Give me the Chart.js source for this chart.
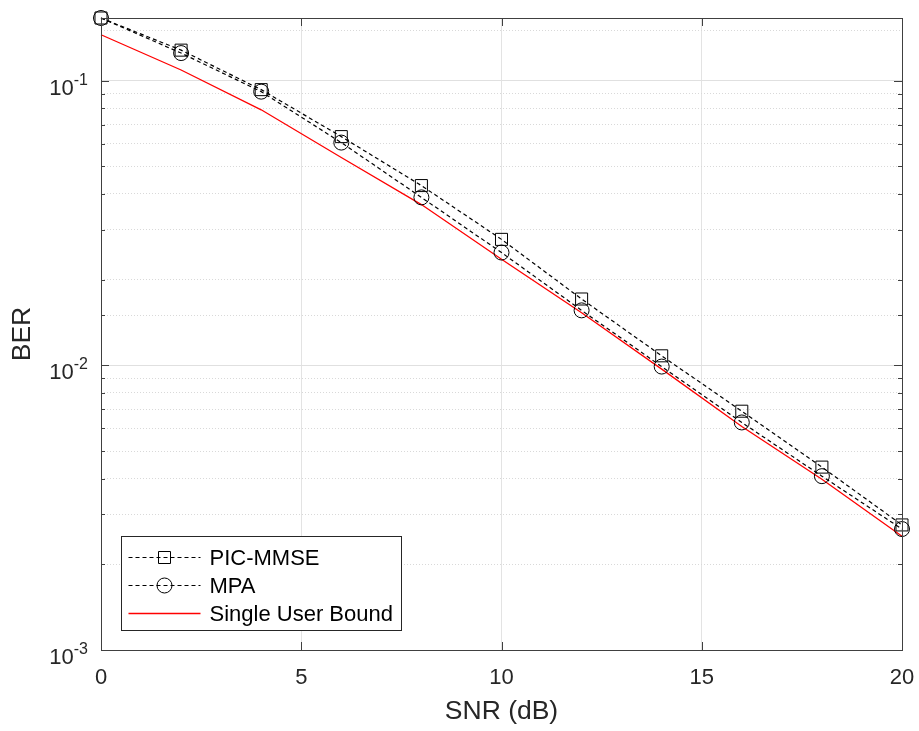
<!DOCTYPE html>
<html>
<head>
<meta charset="utf-8">
<script src="https://cdn.jsdelivr.net/npm/chart.js@4.4.0/dist/chart.umd.min.js"></script>
<style>
  html, body { margin: 0; padding: 0; background: #fff; }
  #wrap { width: 919px; height: 731px; }
</style>
</head>
<body>
<div id="wrap"><canvas id="ber"></canvas></div>
<script>
var snr = [0, 2, 4, 6, 8, 10, 12, 14, 16, 18, 20];
var picMmse = [0.166, 0.128, 0.093, 0.0636, 0.0428, 0.0277, 0.0171, 0.0108, 0.0069, 0.00439, 0.00275];
var mpa = [0.166, 0.125, 0.0915, 0.0606, 0.0389, 0.0249, 0.0156, 0.0099, 0.0063, 0.00408, 0.00266];
var singleUser = [0.145, 0.109, 0.079, 0.0537, 0.0367, 0.0236, 0.0153, 0.0097, 0.0061, 0.00398, 0.00251];
var seriesNames = ["PIC-MMSE", "MPA", "Single User Bound"];
var xTicks = [0, 5, 10, 15, 20];
var yDecades = [-1, -2, -3];

var font = "'Liberation Sans', Arial, Helvetica, sans-serif";
var axisColor = "#404040";
var textColor = "#262626";

var isDecade = function (v) {
    var l = Math.log10(v);
    return Math.abs(l - Math.round(l)) < 1e-9;
};

var pts = function (ys) {
    return snr.map(function (x, i) { return { x: x, y: ys[i] }; });
};

// box, inward ticks, superscript labels and legend, MATLAB style
var axisBox = {
    id: "axisBox",
    afterDraw: function (chart) {
        var ctx = chart.ctx;
        var a = chart.chartArea;
        var xs = chart.scales.x;
        var ys = chart.scales.y;
        ctx.save();

        ctx.strokeStyle = axisColor;
        ctx.lineWidth = 1;
        ctx.setLineDash([]);
        ctx.beginPath();
        xTicks.forEach(function (v) {
            var px = Math.round(xs.getPixelForValue(v)) + 0.5;
            ctx.moveTo(px, a.bottom); ctx.lineTo(px, a.bottom - 8);
            ctx.moveTo(px, a.top); ctx.lineTo(px, a.top + 8);
        });
        ys.ticks.forEach(function (t) {
            if (t.value > 0.1 + 1e-9) return;
            var py = Math.round(ys.getPixelForValue(t.value)) + 0.5;
            var len = isDecade(t.value) ? 8 : 4;
            ctx.moveTo(a.left, py); ctx.lineTo(a.left + len, py);
            ctx.moveTo(a.right, py); ctx.lineTo(a.right - len, py);
        });
        ctx.stroke();
        ctx.strokeRect(Math.round(a.left) + 0.5, Math.round(a.top) + 0.5,
            Math.round(a.right - a.left), Math.round(a.bottom - a.top));

        // y tick labels 10^k
        ctx.fillStyle = textColor;
        ctx.textBaseline = "alphabetic";
        yDecades.forEach(function (k) {
            var py = ys.getPixelForValue(Math.pow(10, k));
            var sup = "-" + Math.abs(k);
            ctx.font = "16px " + font;
            var sw = ctx.measureText(sup).width;
            var sx = a.left - 13 - sw;
            ctx.textAlign = "left";
            ctx.fillText(sup, sx, py + 4);
            ctx.font = "22px " + font;
            ctx.textAlign = "right";
            ctx.fillText("10", sx, py + 14);
        });

        // legend
        var bx = Math.round(a.left) + 20.5;
        var by = Math.round(a.bottom) - 113.5;
        var bw = 280, bh = 94;
        ctx.fillStyle = "#fff";
        ctx.fillRect(bx, by, bw, bh);
        ctx.strokeStyle = textColor;
        ctx.strokeRect(bx, by, bw, bh);
        chart.data.datasets.forEach(function (ds, i) {
            var ry = by + 21 + i * 28;
            ctx.strokeStyle = ds.borderColor;
            ctx.lineWidth = ds.borderWidth;
            ctx.setLineDash(ds.borderDash || []);
            ctx.beginPath();
            ctx.moveTo(bx + 7, ry); ctx.lineTo(bx + 79, ry);
            ctx.stroke();
            ctx.setLineDash([]);
            ctx.lineWidth = 1;
            var mx = bx + 43;
            if (ds.pointRadius > 0) {
                ctx.strokeStyle = ds.pointBorderColor;
                ctx.beginPath();
                if (ds.pointStyle === "rect") {
                    ctx.rect(mx - 6, ry - 6, 12, 12);
                } else {
                    ctx.arc(mx, ry, ds.pointRadius, 0, Math.PI * 2);
                }
                ctx.stroke();
            }
            ctx.fillStyle = "#000";
            ctx.font = "22px " + font;
            ctx.textAlign = "left";
            ctx.textBaseline = "middle";
            ctx.fillText(ds.label, bx + 88, ry + 1);
        });
        ctx.restore();
    }
};

var bCtx = document.getElementById("ber").getContext("2d");
var berChart = new Chart(bCtx, {
    type: "line",
    data: {
        datasets: [
            {
                label: seriesNames[0],
                data: pts(picMmse),
                borderColor: "#000",
                borderWidth: 1.2,
                borderDash: [4, 3],
                pointStyle: "rect",
                pointRadius: 8.5,
                pointBorderColor: "#000",
                pointBackgroundColor: "rgba(0,0,0,0)",
                pointBorderWidth: 1,
                tension: 0,
                fill: false,
                clip: false,
            },
            {
                label: seriesNames[1],
                data: pts(mpa),
                borderColor: "#000",
                borderWidth: 1.2,
                borderDash: [4, 3],
                pointStyle: "circle",
                pointRadius: 7.5,
                pointBorderColor: "#000",
                pointBackgroundColor: "rgba(0,0,0,0)",
                pointBorderWidth: 1,
                tension: 0,
                fill: false,
                clip: false,
            },
            {
                label: seriesNames[2],
                data: pts(singleUser),
                borderColor: "#ff0000",
                borderWidth: 1.3,
                pointRadius: 0,
                tension: 0,
                fill: false,
                clip: false,
            },
        ],
    },
    options: {
        responsive: true,
        maintainAspectRatio: false,
        animation: false,
        events: [],
        layout: { padding: { left: 0, top: 18, right: 17, bottom: 0 } },
        plugins: {
            legend: { display: false },
            tooltip: { enabled: false },
        },
        scales: {
            x: {
                type: "linear",
                min: 0,
                max: 20,
                afterFit: function (s) {
                    s.height = 81;
                    s.paddingLeft = 0;
                    s.paddingRight = 0;
                },
                ticks: {
                    stepSize: 5,
                    autoSkip: false,
                    padding: 15,
                    color: textColor,
                    font: { family: font, size: 22 },
                },
                grid: { color: "#e3e3e3", drawTicks: false },
                border: { display: false },
                title: {
                    display: true,
                    text: "SNR (dB)",
                    color: textColor,
                    font: { family: font, size: 26.5 },
                    padding: { top: 0, bottom: 3 },
                },
            },
            y: {
                type: "logarithmic",
                min: 0.001,
                max: 0.166,
                afterFit: function (s) { s.width = 101; },
                ticks: { display: false },
                grid: {
                    drawTicks: false,
                    color: function (c) {
                        return c.tick && isDecade(c.tick.value) ? "#e0e0e0" : "#d9d9d9";
                    },
                },
                border: {
                    display: false,
                    dash: function (c) {
                        return c.tick && isDecade(c.tick.value) ? [] : [1, 2];
                    },
                },
                title: {
                    display: true,
                    text: "BER",
                    color: textColor,
                    font: { family: font, size: 26.5 },
                    padding: { top: 7, bottom: 0 },
                },
            },
        },
    },
    plugins: [axisBox],
});
</script>
</body>
</html>
